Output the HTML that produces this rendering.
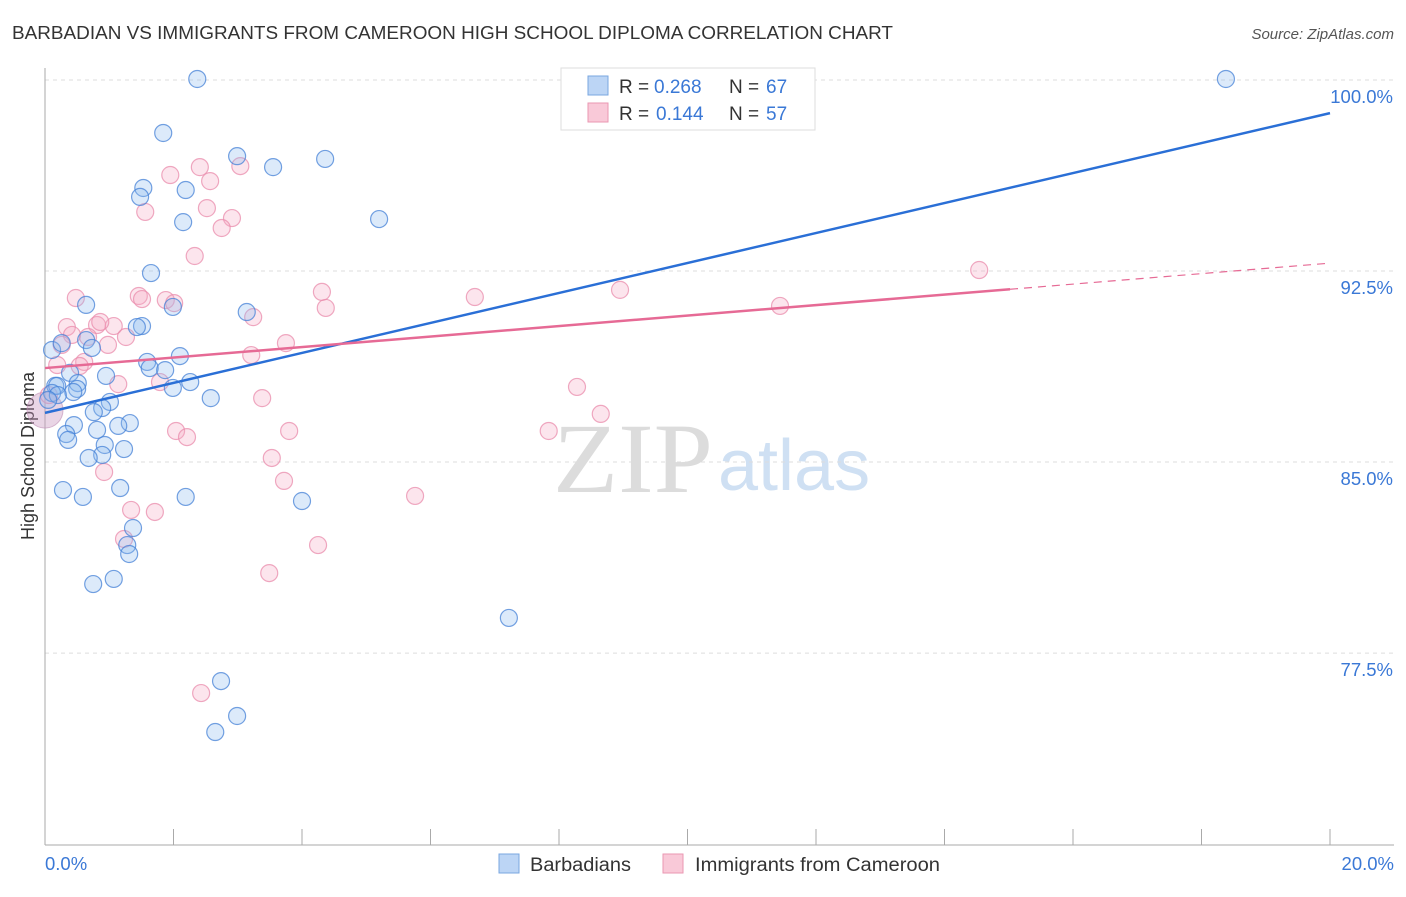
<!DOCTYPE html>
<html><head><meta charset="utf-8"><style>
body{margin:0;background:#fff;font-family:"Liberation Sans",sans-serif}
svg text{font-family:"Liberation Sans",sans-serif}
svg text.serif{font-family:"Liberation Serif",serif}
</style></head><body>
<svg id="chart" width="1406" height="892" xmlns="http://www.w3.org/2000/svg">
<text x="12" y="39" font-size="18" fill="#333" textLength="881" lengthAdjust="spacingAndGlyphs">BARBADIAN VS IMMIGRANTS FROM CAMEROON HIGH SCHOOL DIPLOMA CORRELATION CHART</text>
<text x="1394" y="39" font-size="15" fill="#555" text-anchor="end" font-style="italic">Source: ZipAtlas.com</text>
<text x="34" y="456" font-size="18" fill="#333" text-anchor="middle" transform="rotate(-90 34 456)">High School Diploma</text>
<g><text class="serif" x="553" y="492" font-size="100" fill="#dcdcdc" textLength="160" lengthAdjust="spacingAndGlyphs">ZIP</text><text x="718" y="490" font-size="72" fill="#cfe0f3">atlas</text></g>
<g id="grid"></g><g id="axes"></g><g id="pts"></g><g id="lines"></g>
<g>
<rect x="561" y="68" width="254" height="62" fill="#fff" stroke="#ddd"/>
<rect x="588" y="76" width="20" height="19" fill="#bcd5f5" stroke="#7aa7e0"/>
<rect x="588" y="103" width="20" height="19" fill="#f9c9d8" stroke="#ea97b2"/>
<text x="619" y="93" font-size="19" fill="#333">R =</text><text x="654" y="93" font-size="19" fill="#3a78d6">0.268</text>
<text x="729" y="93" font-size="19" fill="#333">N =</text><text x="766" y="93" font-size="19" fill="#3a78d6">67</text>
<text x="619" y="120" font-size="19" fill="#333">R =</text><text x="656" y="120" font-size="19" fill="#3a78d6">0.144</text>
<text x="729" y="120" font-size="19" fill="#333">N =</text><text x="766" y="120" font-size="19" fill="#3a78d6">57</text>
</g>
<g>
<rect x="499" y="854" width="20" height="19" fill="#bcd5f5" stroke="#7aa7e0"/>
<text x="530" y="871" font-size="19" fill="#333" textLength="101" lengthAdjust="spacingAndGlyphs">Barbadians</text>
<rect x="663" y="854" width="20" height="19" fill="#f9c9d8" stroke="#ea97b2"/>
<text x="695" y="871" font-size="19" fill="#333" textLength="245" lengthAdjust="spacingAndGlyphs">Immigrants from Cameroon</text>
</g>
</svg>
<script>
const yTicks=[100,92.5,85,77.5];
const yTickLabels=["100.0%","92.5%","85.0%","77.5%"];
const xTickLabels=["0.0%","20.0%"];
const blueX=[2.37,1.84,2.99,3.55,4.36,1.53,1.48,2.19,2.15,5.20,18.38,1.65,0.64,1.99,3.14,1.51,1.43,0.11,0.26,0.64,0.73,2.10,1.59,1.63,1.87,0.95,2.26,1.99,0.16,0.39,0.51,0.50,0.44,0.19,0.11,2.58,1.01,0.89,0.76,1.32,1.14,0.45,0.81,0.33,0.36,0.93,1.23,0.89,0.68,0.28,1.17,0.59,2.19,4.00,1.37,1.28,1.31,1.07,0.75,7.22,2.74,2.99,2.65,0.20,0.05];
const blueY=[100.04,97.92,97.01,96.58,96.90,95.76,95.41,95.68,94.42,94.54,100.04,92.42,91.17,91.09,90.89,90.34,90.30,89.40,89.67,89.79,89.48,89.16,88.93,88.69,88.61,88.38,88.14,87.91,87.99,88.50,88.10,87.87,87.75,87.99,87.71,87.51,87.36,87.12,86.96,86.53,86.42,86.45,86.26,86.10,85.87,85.67,85.51,85.28,85.16,83.90,83.98,83.63,83.63,83.47,82.41,81.74,81.39,80.41,80.21,78.88,76.40,75.03,74.40,87.63,87.44];
const pinkX=[11.64,1.95,2.41,2.57,3.04,1.56,2.52,2.91,2.75,2.33,14.54,0.48,1.46,1.51,1.88,2.01,4.31,4.37,6.69,8.95,11.44,3.24,0.34,0.81,1.07,0.86,0.42,0.67,1.26,0.26,0.98,3.75,3.21,0.61,0.19,0.54,1.14,1.79,8.28,0.06,3.38,8.65,7.84,2.04,2.21,3.80,3.53,0.92,3.72,5.76,1.71,1.34,1.23,4.25,3.49,2.43];
const pinkY=[100.0,96.27,96.58,96.03,96.62,94.82,94.97,94.58,94.19,93.09,92.54,91.44,91.52,91.40,91.36,91.24,91.68,91.05,91.48,91.76,91.13,90.69,90.30,90.38,90.34,90.50,89.99,89.91,89.91,89.60,89.60,89.67,89.20,88.93,88.81,88.77,88.06,88.14,87.95,87.63,87.51,86.89,86.22,86.22,85.98,86.22,85.16,84.61,84.26,83.67,83.04,83.12,81.98,81.74,80.64,75.93];
const bigPoint=[0.0,87.04];
const blueTrend=[86.93,98.70];
const pinkTrend=[88.69,92.81];
const pinkSolidEnd=15.02;
const NS="http://www.w3.org/2000/svg";
const X=v=>45+v/20*1285;
const Y=v=>80+(100-v)*25.47;
function mk(t,a,p){const e=document.createElementNS(NS,t);for(const k in a)e.setAttribute(k,a[k]);document.getElementById(p).appendChild(e);return e;}
yTicks.forEach((t,i)=>{
 const g=mk('line',{x1:45,x2:1394,y1:Y(t),y2:Y(t),stroke:'#ddd','stroke-dasharray':'4,4'},'grid');
 
 
 const l=mk('text',{x:1393,y:Y(t)+23,'font-size':18.5,fill:'#3a78d6','text-anchor':'end'},'axes');
 l.textContent=yTickLabels[i];
 
 
});
mk('line',{x1:45,x2:45,y1:68,y2:845,stroke:'#aaa'},'axes');
mk('line',{x1:45,x2:1394,y1:845,y2:845,stroke:'#aaa'},'axes');
for(let i=1;i<=10;i++){mk('line',{x1:X(i*2),x2:X(i*2),y1:829,y2:845,stroke:'#aaa'},'axes');}
const xl0=mk('text',{x:45,y:870,'font-size':18.5,fill:'#3a78d6'},'axes');xl0.textContent=xTickLabels[0];


const xl1=mk('text',{x:1394,y:870,'font-size':18.5,fill:'#3a78d6','text-anchor':'end'},'axes');xl1.textContent=xTickLabels[1];


const bp=mk('circle',{cx:X(bigPoint[0]),cy:Y(bigPoint[1]),r:18,fill:'rgba(200,150,190,0.4)',stroke:'rgba(190,140,180,0.6)'},'pts');


pinkX.forEach((x,i)=>{const c=mk('circle',{cx:X(x),cy:Y(pinkY[i]),r:8.5,fill:'rgba(245,170,195,0.3)',stroke:'rgba(234,140,172,0.75)','stroke-width':1.2},'pts');
 
 });
blueX.forEach((x,i)=>{const c=mk('circle',{cx:X(x),cy:Y(blueY[i]),r:8.5,fill:'rgba(140,185,240,0.3)',stroke:'rgba(70,130,215,0.75)','stroke-width':1.2},'pts');
 
 });
const bl=mk('line',{x1:X(0),y1:Y(blueTrend[0]),x2:X(20),y2:Y(blueTrend[1]),stroke:'#2a6fd6','stroke-width':2.5},'lines');


const pm=v=>pinkTrend[0]+(pinkTrend[1]-pinkTrend[0])*v/20;
const pl=mk('line',{x1:X(0),y1:Y(pinkTrend[0]),x2:X(pinkSolidEnd),y2:Y(pm(pinkSolidEnd)),stroke:'#e66a95','stroke-width':2.5},'lines');


const pd=mk('line',{x1:X(pinkSolidEnd),y1:Y(pm(pinkSolidEnd)),x2:X(20),y2:Y(pinkTrend[1]),stroke:'#e66a95','stroke-width':1.2,'stroke-dasharray':'8,6'},'lines');


</script>
</body></html>
